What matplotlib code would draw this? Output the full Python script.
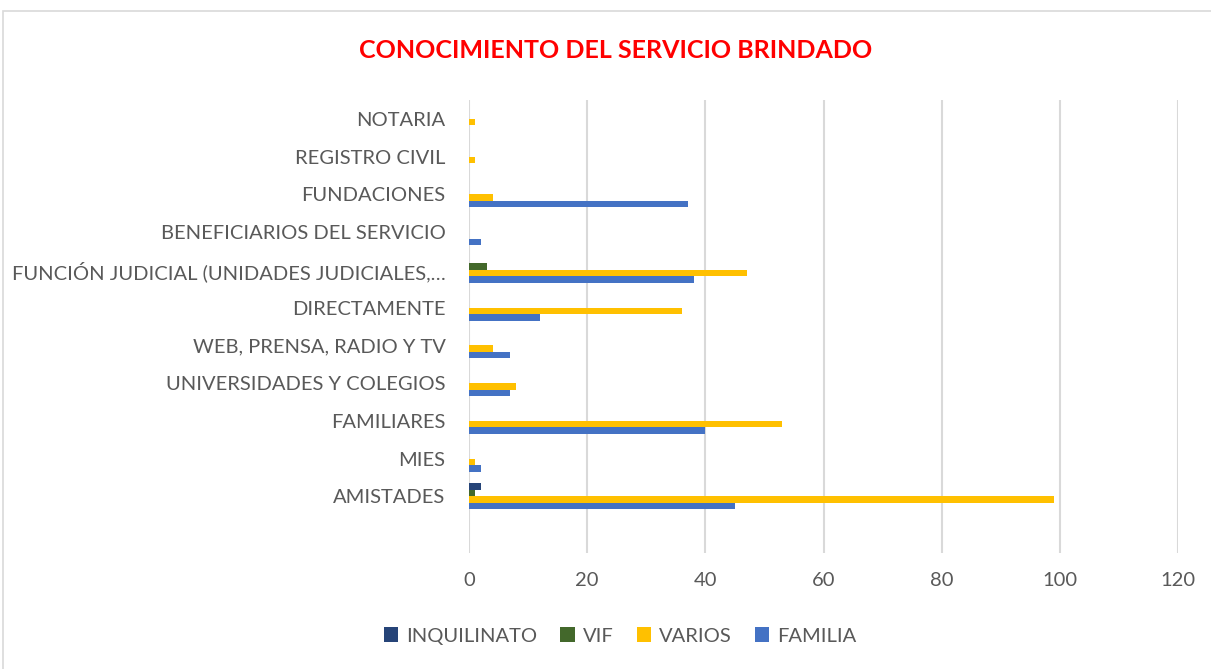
import matplotlib
matplotlib.use("Agg")
from matplotlib import pyplot as plt
from matplotlib.patches import Rectangle
import numpy as np

# categories from bottom to top
categorias = ['AMISTADES', 'MIES', 'FAMILIARES', 'UNIVERSIDADES Y COLEGIOS',
              'WEB, PRENSA, RADIO Y TV', 'DIRECTAMENTE',
              'FUNCIÓN JUDICIAL (UNIDADES JUDICIALES,…',
              'BENEFICIARIOS DEL SERVICIO', 'FUNDACIONES', 'REGISTRO CIVIL', 'NOTARIA']

inquilinato = [2, 0, 0, 0, 0, 0, 0, 0, 0, 0, 0]
vif         = [1, 0, 0, 0, 0, 0, 3, 0, 0, 0, 0]
varios      = [99, 1, 53, 8, 4, 36, 47, 0, 4, 1, 1]
familia     = [45, 2, 40, 7, 7, 12, 38, 2, 37, 0, 0]

series = [('INQUILINATO', inquilinato, '#264478'),
          ('VIF', vif, '#43682B'),
          ('VARIOS', varios, '#FFC000'),
          ('FAMILIA', familia, '#4472C4')]

plt.rcParams['font.family'] = ['Lato', 'DejaVu Sans']

fig = plt.figure(figsize=(12.11, 6.69), dpi=100)
ax = fig.add_axes([469 / 1211, 1 - 553 / 669, 709 / 1211, 453 / 669])

# chart border
fig.patches.append(Rectangle((3 / 1211, -0.05), 1.1, 1 - 11 / 669 + 0.05,
                             transform=fig.transFigure, fill=False,
                             edgecolor='#d9d9d9', linewidth=1.2))

y = np.arange(len(categorias))
h = 0.172
offsets = [1.5, 0.5, -0.5, -1.5]
for (nombre, vals, color), off in zip(series, offsets):
    ax.barh(y + off * h, vals, height=h, color=color, label=nombre, zorder=3)

ax.set_xlim(0, 120)
ax.set_ylim(-1.5, len(categorias) - 0.5)
ax.set_xticks(range(0, 121, 20))
ax.set_yticks(y)
ax.set_yticklabels(categorias)
ax.grid(axis='x', color='#d9d9d9', linewidth=1.5, zorder=0)
for s in ax.spines.values():
    s.set_visible(False)
ax.tick_params(axis='both', length=0, labelsize=14.5, colors='#595959')
ax.tick_params(axis='x', pad=14)
ax.tick_params(axis='y', pad=17)

fig.text(616 / 1211, 1 - 50 / 669, 'CONOCIMIENTO DEL SERVICIO BRINDADO',
         color='#ff0000', fontsize=18, fontweight='bold', ha='center', va='center')

leg = fig.legend(loc='center', bbox_to_anchor=(620 / 1211, 1 - 636 / 669), ncol=4,
                 frameon=False, fontsize=14.5, handlelength=0.7, handleheight=0.7,
                 columnspacing=1.15, handletextpad=0.4)
for t in leg.get_texts():
    t.set_color('#595959')

fig.savefig('out.png', dpi=100)
